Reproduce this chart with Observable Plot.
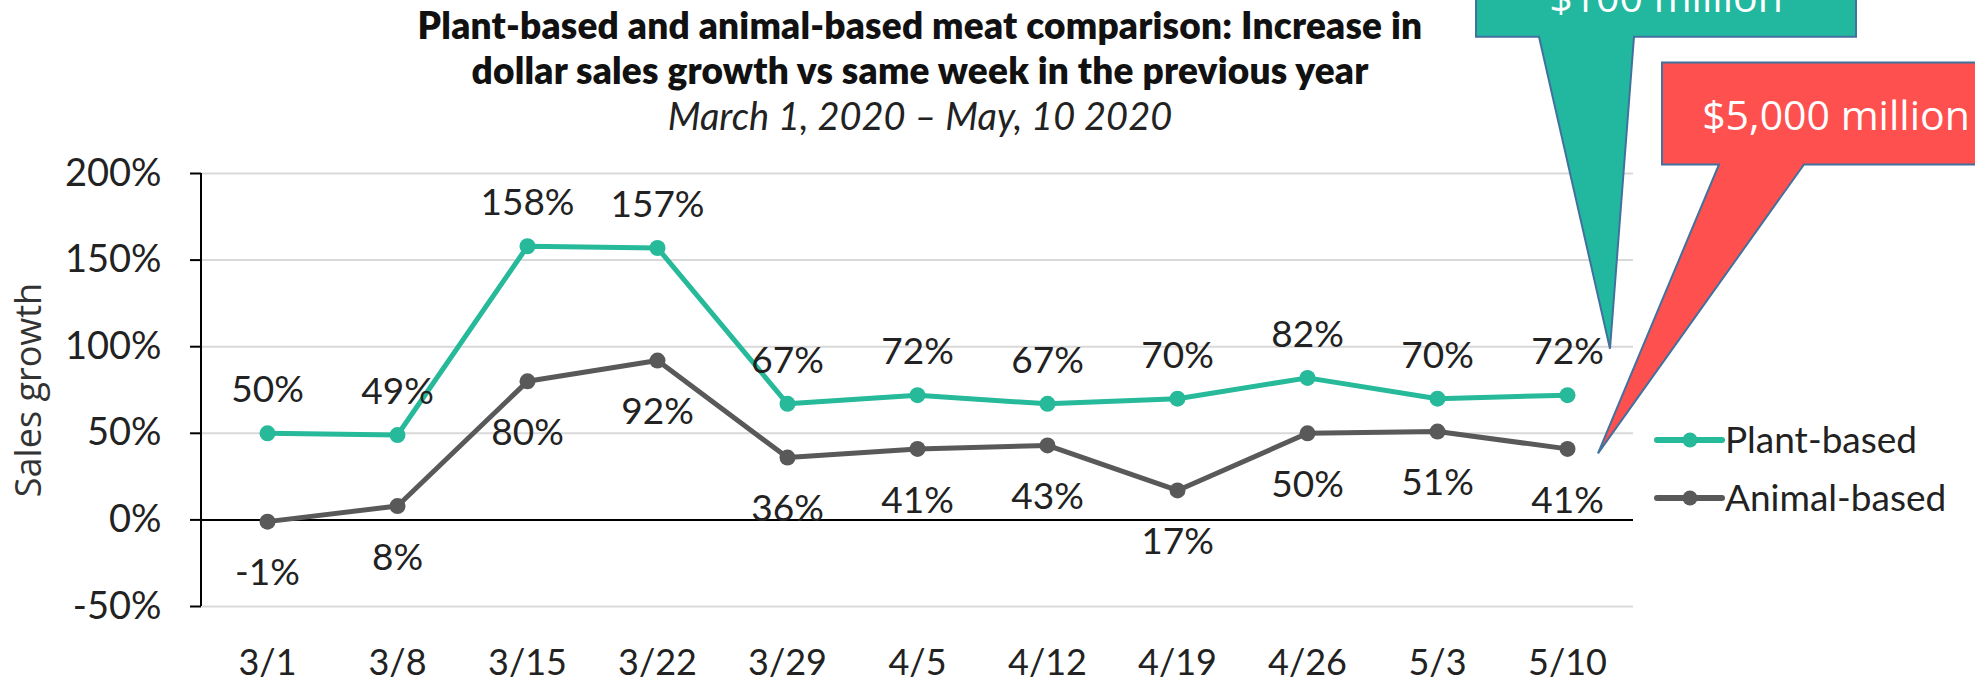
<!DOCTYPE html>
<html><head><meta charset="utf-8">
<script src="https://cdn.jsdelivr.net/npm/d3@7"></script>
<script src="https://cdn.jsdelivr.net/npm/@observablehq/plot@0.6"></script>
<style>
body{margin:0;background:#fff;width:1975px;height:682px;overflow:hidden;}
#title{height:140px;width:1840px;text-align:center;font-family:Lato,sans-serif;color:#111;box-sizing:border-box;padding-top:2px}
.t1{font-weight:800;font-size:37px;line-height:45px;letter-spacing:0.2px}
.t2{font-style:italic;font-size:38px;line-height:46px;color:#222}
</style></head><body>
<div id="title"><div class="t1">Plant-based and animal-based meat comparison: Increase in<br>dollar sales growth vs same week in the previous year</div><div class="t2">March 1, 2020 – May, 10 2020</div></div>
<div id="chart"></div>
<script>
const weeks = ["3/1","3/8","3/15","3/22","3/29","4/5","4/12","4/19","4/26","5/3","5/10"];
const plantBased = [50,49,158,157,67,72,67,70,82,70,72];
const animalBased = [-1,8,80,92,36,41,43,17,50,51,41];
const yTicks = [-50,0,50,100,150,200];
const seriesNames = ["Plant-based","Animal-based"];
const seriesColors = ["#26b99a","#595959"];
const calloutTexts = ["$100 million","$5,000 million"];
const calloutColors = ["#22b8a0","#ff5050"];
const yLabel = "Sales growth";

const plantRows = weeks.map((w,i)=>({week:w, value:plantBased[i]}));
const animalRows = weeks.map((w,i)=>({week:w, value:animalBased[i]}));

const chart = Plot.plot({
  width:1975, height:542,
  marginTop:33, marginBottom:76, marginLeft:201, marginRight:342,
  style:{fontFamily:"Lato", overflow:"visible", background:"transparent"},
  x:{type:"point", domain:weeks, padding:0.5, label:null},
  y:{domain:[-50,200], label:null},
  marks:[
    Plot.ruleY(yTicks.filter(t=>t!==0), {stroke:"#d9d9d9", strokeWidth:2}),
    Plot.ruleY([0], {stroke:"#000", strokeWidth:2}),
    Plot.axisY({ticks:yTicks, tickFormat:d=>d+"%", tickSize:11, tickPadding:29, fontSize:38, stroke:"#000", strokeWidth:2, fill:"#222", label:null}),
    Plot.axisX({tickSize:0, tickPadding:43, fontSize:36, fill:"#222", label:null}),
    Plot.text([yLabel], {frameAnchor:"left", dx:-172, rotate:-90, textAnchor:"middle", fontSize:36, fontFamily:"Open Sans", fill:"#333"}),
    Plot.line(animalRows, {x:"week", y:"value", stroke:seriesColors[1], strokeWidth:5}),
    Plot.dot(animalRows, {x:"week", y:"value", r:8, fill:seriesColors[1]}),
    Plot.line(plantRows, {x:"week", y:"value", stroke:seriesColors[0], strokeWidth:5}),
    Plot.dot(plantRows, {x:"week", y:"value", r:8, fill:seriesColors[0]}),
    Plot.text(plantRows, {x:"week", y:"value", text:d=>d.value+"%", dy:-43, fontSize:37, fill:"#222"}),
    Plot.text(animalRows, {x:"week", y:"value", text:d=>d.value+"%", dy:52, fontSize:37, fill:"#222"})
  ]
});
document.getElementById("chart").appendChild(chart);

const svg = d3.select(chart);
const sx = chart.scale("x"), sy = chart.scale("y");
// y axis line
svg.append("line").attr("x1",201).attr("x2",201).attr("y1",sy.apply(200)).attr("y2",sy.apply(-50)).attr("stroke","#000").attr("stroke-width",2);

// legend
seriesNames.forEach((name,i)=>{
  const y = 300 + i*58;
  const g = svg.append("g");
  g.append("line").attr("x1",1657).attr("x2",1722).attr("y1",y).attr("y2",y).attr("stroke",seriesColors[i]).attr("stroke-width",6).attr("stroke-linecap","round");
  g.append("circle").attr("cx",1690).attr("cy",y).attr("r",7.5).attr("fill",seriesColors[i]);
  g.append("text").attr("x",1725).attr("y",y).attr("dy","0.36em").attr("text-anchor","start").attr("font-size",37).attr("font-family","Lato").attr("fill","#222").text(name);
});

// callouts anchored on last week's points
const last = weeks.length-1;
const xl = sx.apply(weeks[last]);
function callout(tx, ty, box, tail, color, label, textDy){
  const [l,r,t,b] = box;
  const pts = [[l,t],[r,t],[r,b],[tail[1],b],[0,0],[tail[0],b],[l,b]].map(([a,c])=>[tx+a,ty+c]);
  svg.append("path").attr("d","M"+pts.map(p=>p.join(",")).join("L")+"Z").attr("fill",color).attr("stroke","#41719c").attr("stroke-width",2).attr("stroke-linejoin","miter");
  svg.append("text").attr("x",tx+(l+r)/2).attr("y",ty+textDy).attr("text-anchor","middle").attr("font-family","Open Sans").attr("font-size",41).attr("fill","#fff").text(label);
}
callout(xl+43, sy.apply(plantBased[last])-46, [-134,246,-440,-312], [-71,24], calloutColors[0], calloutTexts[0], -337);
callout(xl+31, sy.apply(animalBased[last])+5, [64,412,-391,-289], [121,206], calloutColors[1], calloutTexts[1], -323);
</script>
</body></html>
